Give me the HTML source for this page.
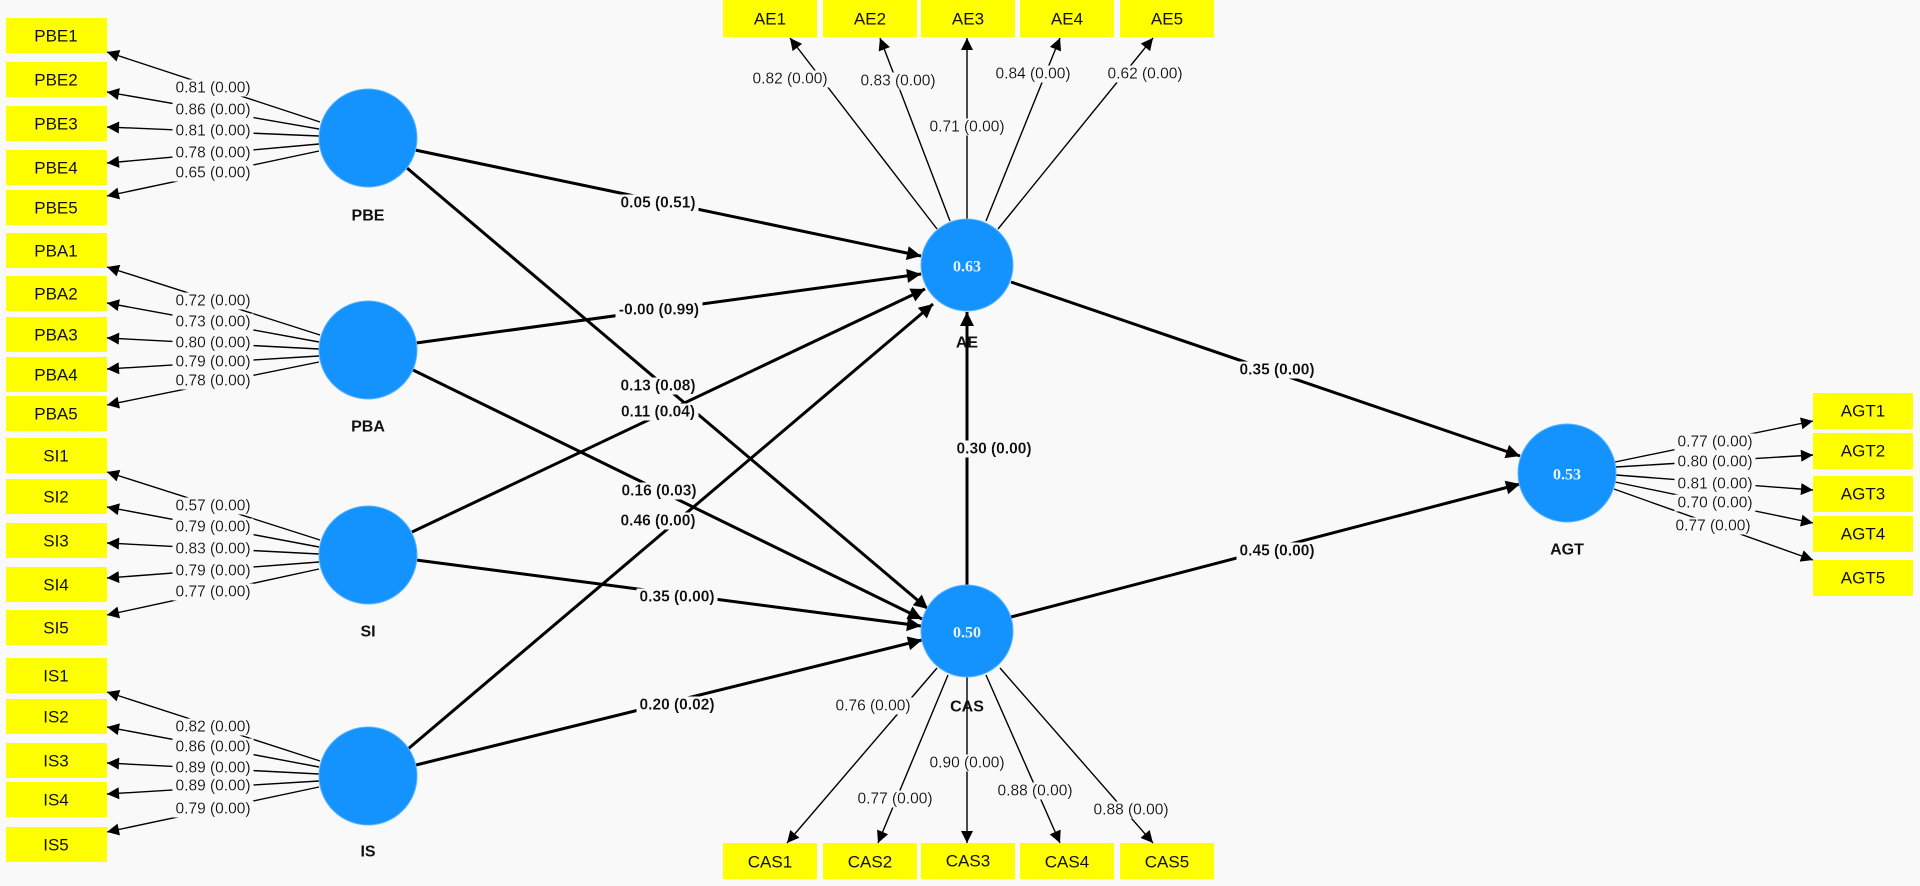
<!DOCTYPE html>
<html><head><meta charset="utf-8"><style>
html,body{margin:0;padding:0;background:#f9f9f9;}
svg{display:block;font-family:"Liberation Sans",Arial,sans-serif;}
.box{fill:#ffff00;}
.bt{font-size:17px;fill:#111;text-anchor:middle;dominant-baseline:central;}
.ll{font-size:15.5px;fill:#111;text-anchor:middle;dominant-baseline:central;}
.pl{font-size:15.5px;font-weight:bold;fill:#111;text-anchor:middle;dominant-baseline:central;}
.cn{font-size:16px;font-weight:bold;fill:#111;text-anchor:middle;dominant-baseline:central;}
.cv{font-size:16px;font-weight:bold;fill:#e8f4ff;text-anchor:middle;dominant-baseline:central;font-family:"Liberation Serif",serif;}
.th{stroke:#000;stroke-width:1.4;fill:none;}
.tk{stroke:#000;stroke-width:3;fill:none;}
</style></head><body>
<svg width="1920" height="886" viewBox="0 0 1920 886" xmlns="http://www.w3.org/2000/svg">
<defs>
<marker id="a" viewBox="0 0 10 10" refX="10" refY="5" markerWidth="14" markerHeight="12" markerUnits="userSpaceOnUse" orient="auto"><path d="M0,0 L10,5 L0,10 z" fill="#000"/></marker>
<marker id="b" viewBox="0 0 10 10" refX="10" refY="5" markerWidth="18" markerHeight="14" markerUnits="userSpaceOnUse" orient="auto"><path d="M0,0 L10,5 L0,10 z" fill="#000"/></marker>
<filter id="bg" x="-0.04" y="0" width="1.08" height="1"><feFlood flood-color="#f9f9f9"/><feComposite in="SourceGraphic"/></filter>
</defs>
<rect width="1920" height="886" fill="#f9f9f9"/>

<g>
<rect class="box" x="6" y="18" width="101" height="35"/><text class="bt" x="56" y="36">PBE1</text>
<rect class="box" x="6" y="62" width="101" height="35"/><text class="bt" x="56" y="80">PBE2</text>
<rect class="box" x="6" y="106" width="101" height="35"/><text class="bt" x="56" y="124">PBE3</text>
<rect class="box" x="6" y="150" width="101" height="35"/><text class="bt" x="56" y="168">PBE4</text>
<rect class="box" x="6" y="190" width="101" height="35"/><text class="bt" x="56" y="208">PBE5</text>
<rect class="box" x="6" y="233" width="101" height="35"/><text class="bt" x="56" y="251">PBA1</text>
<rect class="box" x="6" y="276" width="101" height="35"/><text class="bt" x="56" y="294">PBA2</text>
<rect class="box" x="6" y="317" width="101" height="35"/><text class="bt" x="56" y="335">PBA3</text>
<rect class="box" x="6" y="357" width="101" height="35"/><text class="bt" x="56" y="375">PBA4</text>
<rect class="box" x="6" y="396" width="101" height="35"/><text class="bt" x="56" y="414">PBA5</text>
<rect class="box" x="6" y="438" width="101" height="35"/><text class="bt" x="56" y="456">SI1</text>
<rect class="box" x="6" y="479" width="101" height="35"/><text class="bt" x="56" y="497">SI2</text>
<rect class="box" x="6" y="523" width="101" height="35"/><text class="bt" x="56" y="541">SI3</text>
<rect class="box" x="6" y="567" width="101" height="35"/><text class="bt" x="56" y="585">SI4</text>
<rect class="box" x="6" y="610" width="101" height="35"/><text class="bt" x="56" y="628">SI5</text>
<rect class="box" x="6" y="658" width="101" height="35"/><text class="bt" x="56" y="676">IS1</text>
<rect class="box" x="6" y="699" width="101" height="35"/><text class="bt" x="56" y="717">IS2</text>
<rect class="box" x="6" y="743" width="101" height="35"/><text class="bt" x="56" y="761">IS3</text>
<rect class="box" x="6" y="782" width="101" height="35"/><text class="bt" x="56" y="800">IS4</text>
<rect class="box" x="6" y="827" width="101" height="35"/><text class="bt" x="56" y="845">IS5</text>
</g>

<g>
<rect class="box" x="723" y="0" width="94" height="37"/><text class="bt" x="770" y="19">AE1</text>
<rect class="box" x="823" y="0" width="94" height="37"/><text class="bt" x="870" y="19">AE2</text>
<rect class="box" x="921" y="0" width="94" height="37"/><text class="bt" x="968" y="19">AE3</text>
<rect class="box" x="1020" y="0" width="94" height="37"/><text class="bt" x="1067" y="19">AE4</text>
<rect class="box" x="1120" y="0" width="94" height="37"/><text class="bt" x="1167" y="19">AE5</text>
<rect class="box" x="723" y="843" width="94" height="36"/><text class="bt" x="770" y="862">CAS1</text>
<rect class="box" x="823" y="843" width="94" height="36"/><text class="bt" x="870" y="862">CAS2</text>
<rect class="box" x="921" y="843" width="94" height="36"/><text class="bt" x="968" y="861">CAS3</text>
<rect class="box" x="1020" y="843" width="94" height="36"/><text class="bt" x="1067" y="862">CAS4</text>
<rect class="box" x="1120" y="843" width="94" height="36"/><text class="bt" x="1167" y="862">CAS5</text>
<rect class="box" x="1813" y="393" width="100" height="36"/><text class="bt" x="1863" y="411">AGT1</text>
<rect class="box" x="1813" y="433" width="100" height="36"/><text class="bt" x="1863" y="451">AGT2</text>
<rect class="box" x="1813" y="476" width="100" height="36"/><text class="bt" x="1863" y="494">AGT3</text>
<rect class="box" x="1813" y="516" width="100" height="36"/><text class="bt" x="1863" y="534">AGT4</text>
<rect class="box" x="1813" y="560" width="100" height="36"/><text class="bt" x="1863" y="578">AGT5</text>
</g>

<g class="th">
<line x1="320" y1="122" x2="107" y2="52" marker-end="url(#a)"/>
<line x1="319" y1="129" x2="107" y2="92" marker-end="url(#a)"/>
<line x1="319" y1="136" x2="107" y2="127" marker-end="url(#a)"/>
<line x1="319" y1="144" x2="107" y2="163" marker-end="url(#a)"/>
<line x1="319" y1="151" x2="107" y2="196" marker-end="url(#a)"/>
<line x1="320" y1="335" x2="107" y2="267" marker-end="url(#a)"/>
<line x1="319" y1="342" x2="107" y2="303" marker-end="url(#a)"/>
<line x1="319" y1="349" x2="107" y2="338" marker-end="url(#a)"/>
<line x1="319" y1="356" x2="107" y2="369" marker-end="url(#a)"/>
<line x1="319" y1="362" x2="107" y2="405" marker-end="url(#a)"/>
<line x1="320" y1="540" x2="107" y2="472" marker-end="url(#a)"/>
<line x1="319" y1="547" x2="107" y2="507" marker-end="url(#a)"/>
<line x1="319" y1="554" x2="107" y2="543" marker-end="url(#a)"/>
<line x1="319" y1="562" x2="107" y2="578" marker-end="url(#a)"/>
<line x1="319" y1="569" x2="107" y2="615" marker-end="url(#a)"/>
<line x1="320" y1="761" x2="107" y2="692" marker-end="url(#a)"/>
<line x1="319" y1="767" x2="107" y2="727" marker-end="url(#a)"/>
<line x1="319" y1="774" x2="107" y2="763" marker-end="url(#a)"/>
<line x1="319" y1="781" x2="107" y2="794" marker-end="url(#a)"/>
<line x1="319" y1="787" x2="107" y2="832" marker-end="url(#a)"/>
<line x1="937" y1="229" x2="790" y2="38" marker-end="url(#a)"/>
<line x1="950" y1="221" x2="880" y2="38" marker-end="url(#a)"/>
<line x1="967" y1="219" x2="967" y2="38" marker-end="url(#a)"/>
<line x1="986" y1="221" x2="1060" y2="38" marker-end="url(#a)"/>
<line x1="998" y1="229" x2="1153" y2="38" marker-end="url(#a)"/>
<line x1="937" y1="668" x2="787" y2="843" marker-end="url(#a)"/>
<line x1="948" y1="675" x2="878" y2="843" marker-end="url(#a)"/>
<line x1="967" y1="677" x2="967" y2="843" marker-end="url(#a)"/>
<line x1="986" y1="675" x2="1060" y2="843" marker-end="url(#a)"/>
<line x1="1000" y1="668" x2="1153" y2="843" marker-end="url(#a)"/>
<line x1="1615" y1="462" x2="1813" y2="421" marker-end="url(#a)"/>
<line x1="1616" y1="467" x2="1813" y2="455" marker-end="url(#a)"/>
<line x1="1616" y1="475" x2="1813" y2="490" marker-end="url(#a)"/>
<line x1="1615" y1="482" x2="1813" y2="523" marker-end="url(#a)"/>
<line x1="1614" y1="489" x2="1813" y2="560" marker-end="url(#a)"/>
</g>

<g class="tk">
<line x1="415" y1="150" x2="921" y2="256" marker-end="url(#b)"/>
<line x1="416" y1="343" x2="921" y2="274" marker-end="url(#b)"/>
<line x1="407" y1="168" x2="928" y2="609" marker-end="url(#b)"/>
<line x1="412" y1="532" x2="925" y2="289" marker-end="url(#b)"/>
<line x1="413" y1="370" x2="922" y2="619" marker-end="url(#b)"/>
<line x1="408" y1="749" x2="933" y2="304" marker-end="url(#b)"/>
<line x1="416" y1="560" x2="921" y2="626" marker-end="url(#b)"/>
<line x1="416" y1="765" x2="922" y2="640" marker-end="url(#b)"/>
<line x1="1011" y1="282" x2="1520" y2="456" marker-end="url(#b)"/>
<line x1="1011" y1="617" x2="1520" y2="484" marker-end="url(#b)"/>
<line x1="967" y1="585" x2="967" y2="312" marker-end="url(#b)"/>
</g>

<g fill="#1493ff" stroke="#5ab4ff" stroke-width="1">
<circle cx="368" cy="138" r="49"/>
<circle cx="368" cy="350" r="49"/>
<circle cx="368" cy="555" r="49"/>
<circle cx="368" cy="776" r="49"/>
<circle cx="967" cy="265" r="46"/>
<circle cx="967" cy="631" r="46"/>
<circle cx="1567" cy="473" r="49"/>
</g>
<text class="cv" x="967" y="267">0.63</text>
<text class="cv" x="967" y="633">0.50</text>
<text class="cv" x="1567" y="475">0.53</text>
<text class="cn" x="368" y="216">PBE</text>
<text class="cn" x="368" y="427">PBA</text>
<text class="cn" x="368" y="632">SI</text>
<text class="cn" x="368" y="852">IS</text>
<text class="cn" x="967" y="343">AE</text>
<text class="cn" x="967" y="707">CAS</text>
<text class="cn" x="1567" y="550">AGT</text>

<g class="ll">
<text x="213" y="88" filter="url(#bg)">0.81 (0.00)</text>
<text x="213" y="110" filter="url(#bg)">0.86 (0.00)</text>
<text x="213" y="131" filter="url(#bg)">0.81 (0.00)</text>
<text x="213" y="153" filter="url(#bg)">0.78 (0.00)</text>
<text x="213" y="173" filter="url(#bg)">0.65 (0.00)</text>
<text x="213" y="301" filter="url(#bg)">0.72 (0.00)</text>
<text x="213" y="322" filter="url(#bg)">0.73 (0.00)</text>
<text x="213" y="343" filter="url(#bg)">0.80 (0.00)</text>
<text x="213" y="362" filter="url(#bg)">0.79 (0.00)</text>
<text x="213" y="381" filter="url(#bg)">0.78 (0.00)</text>
<text x="213" y="506" filter="url(#bg)">0.57 (0.00)</text>
<text x="213" y="527" filter="url(#bg)">0.79 (0.00)</text>
<text x="213" y="549" filter="url(#bg)">0.83 (0.00)</text>
<text x="213" y="571" filter="url(#bg)">0.79 (0.00)</text>
<text x="213" y="592" filter="url(#bg)">0.77 (0.00)</text>
<text x="213" y="727" filter="url(#bg)">0.82 (0.00)</text>
<text x="213" y="747" filter="url(#bg)">0.86 (0.00)</text>
<text x="213" y="768" filter="url(#bg)">0.89 (0.00)</text>
<text x="213" y="786" filter="url(#bg)">0.89 (0.00)</text>
<text x="213" y="809" filter="url(#bg)">0.79 (0.00)</text>
<text x="790" y="79" filter="url(#bg)">0.82 (0.00)</text>
<text x="898" y="81" filter="url(#bg)">0.83 (0.00)</text>
<text x="967" y="127" filter="url(#bg)">0.71 (0.00)</text>
<text x="1033" y="74" filter="url(#bg)">0.84 (0.00)</text>
<text x="1145" y="74" filter="url(#bg)">0.62 (0.00)</text>
<text x="873" y="706" filter="url(#bg)">0.76 (0.00)</text>
<text x="895" y="799" filter="url(#bg)">0.77 (0.00)</text>
<text x="967" y="763" filter="url(#bg)">0.90 (0.00)</text>
<text x="1035" y="791" filter="url(#bg)">0.88 (0.00)</text>
<text x="1131" y="810" filter="url(#bg)">0.88 (0.00)</text>
<text x="1715" y="442" filter="url(#bg)">0.77 (0.00)</text>
<text x="1715" y="462" filter="url(#bg)">0.80 (0.00)</text>
<text x="1715" y="484" filter="url(#bg)">0.81 (0.00)</text>
<text x="1715" y="503" filter="url(#bg)">0.70 (0.00)</text>
<text x="1713" y="526" filter="url(#bg)">0.77 (0.00)</text>
</g>

<g class="pl">
<text x="658" y="203" filter="url(#bg)">0.05 (0.51)</text>
<text x="659" y="310" filter="url(#bg)">-0.00 (0.99)</text>
<text x="658" y="386" filter="url(#bg)">0.13 (0.08)</text>
<text x="658" y="412" filter="url(#bg)">0.11 (0.04)</text>
<text x="659" y="491" filter="url(#bg)">0.16 (0.03)</text>
<text x="658" y="521" filter="url(#bg)">0.46 (0.00)</text>
<text x="677" y="597" filter="url(#bg)">0.35 (0.00)</text>
<text x="677" y="705" filter="url(#bg)">0.20 (0.02)</text>
<text x="1277" y="370" filter="url(#bg)">0.35 (0.00)</text>
<text x="1277" y="551" filter="url(#bg)">0.45 (0.00)</text>
<text x="994" y="449" filter="url(#bg)">0.30 (0.00)</text>
</g>
</svg>
</body></html>
